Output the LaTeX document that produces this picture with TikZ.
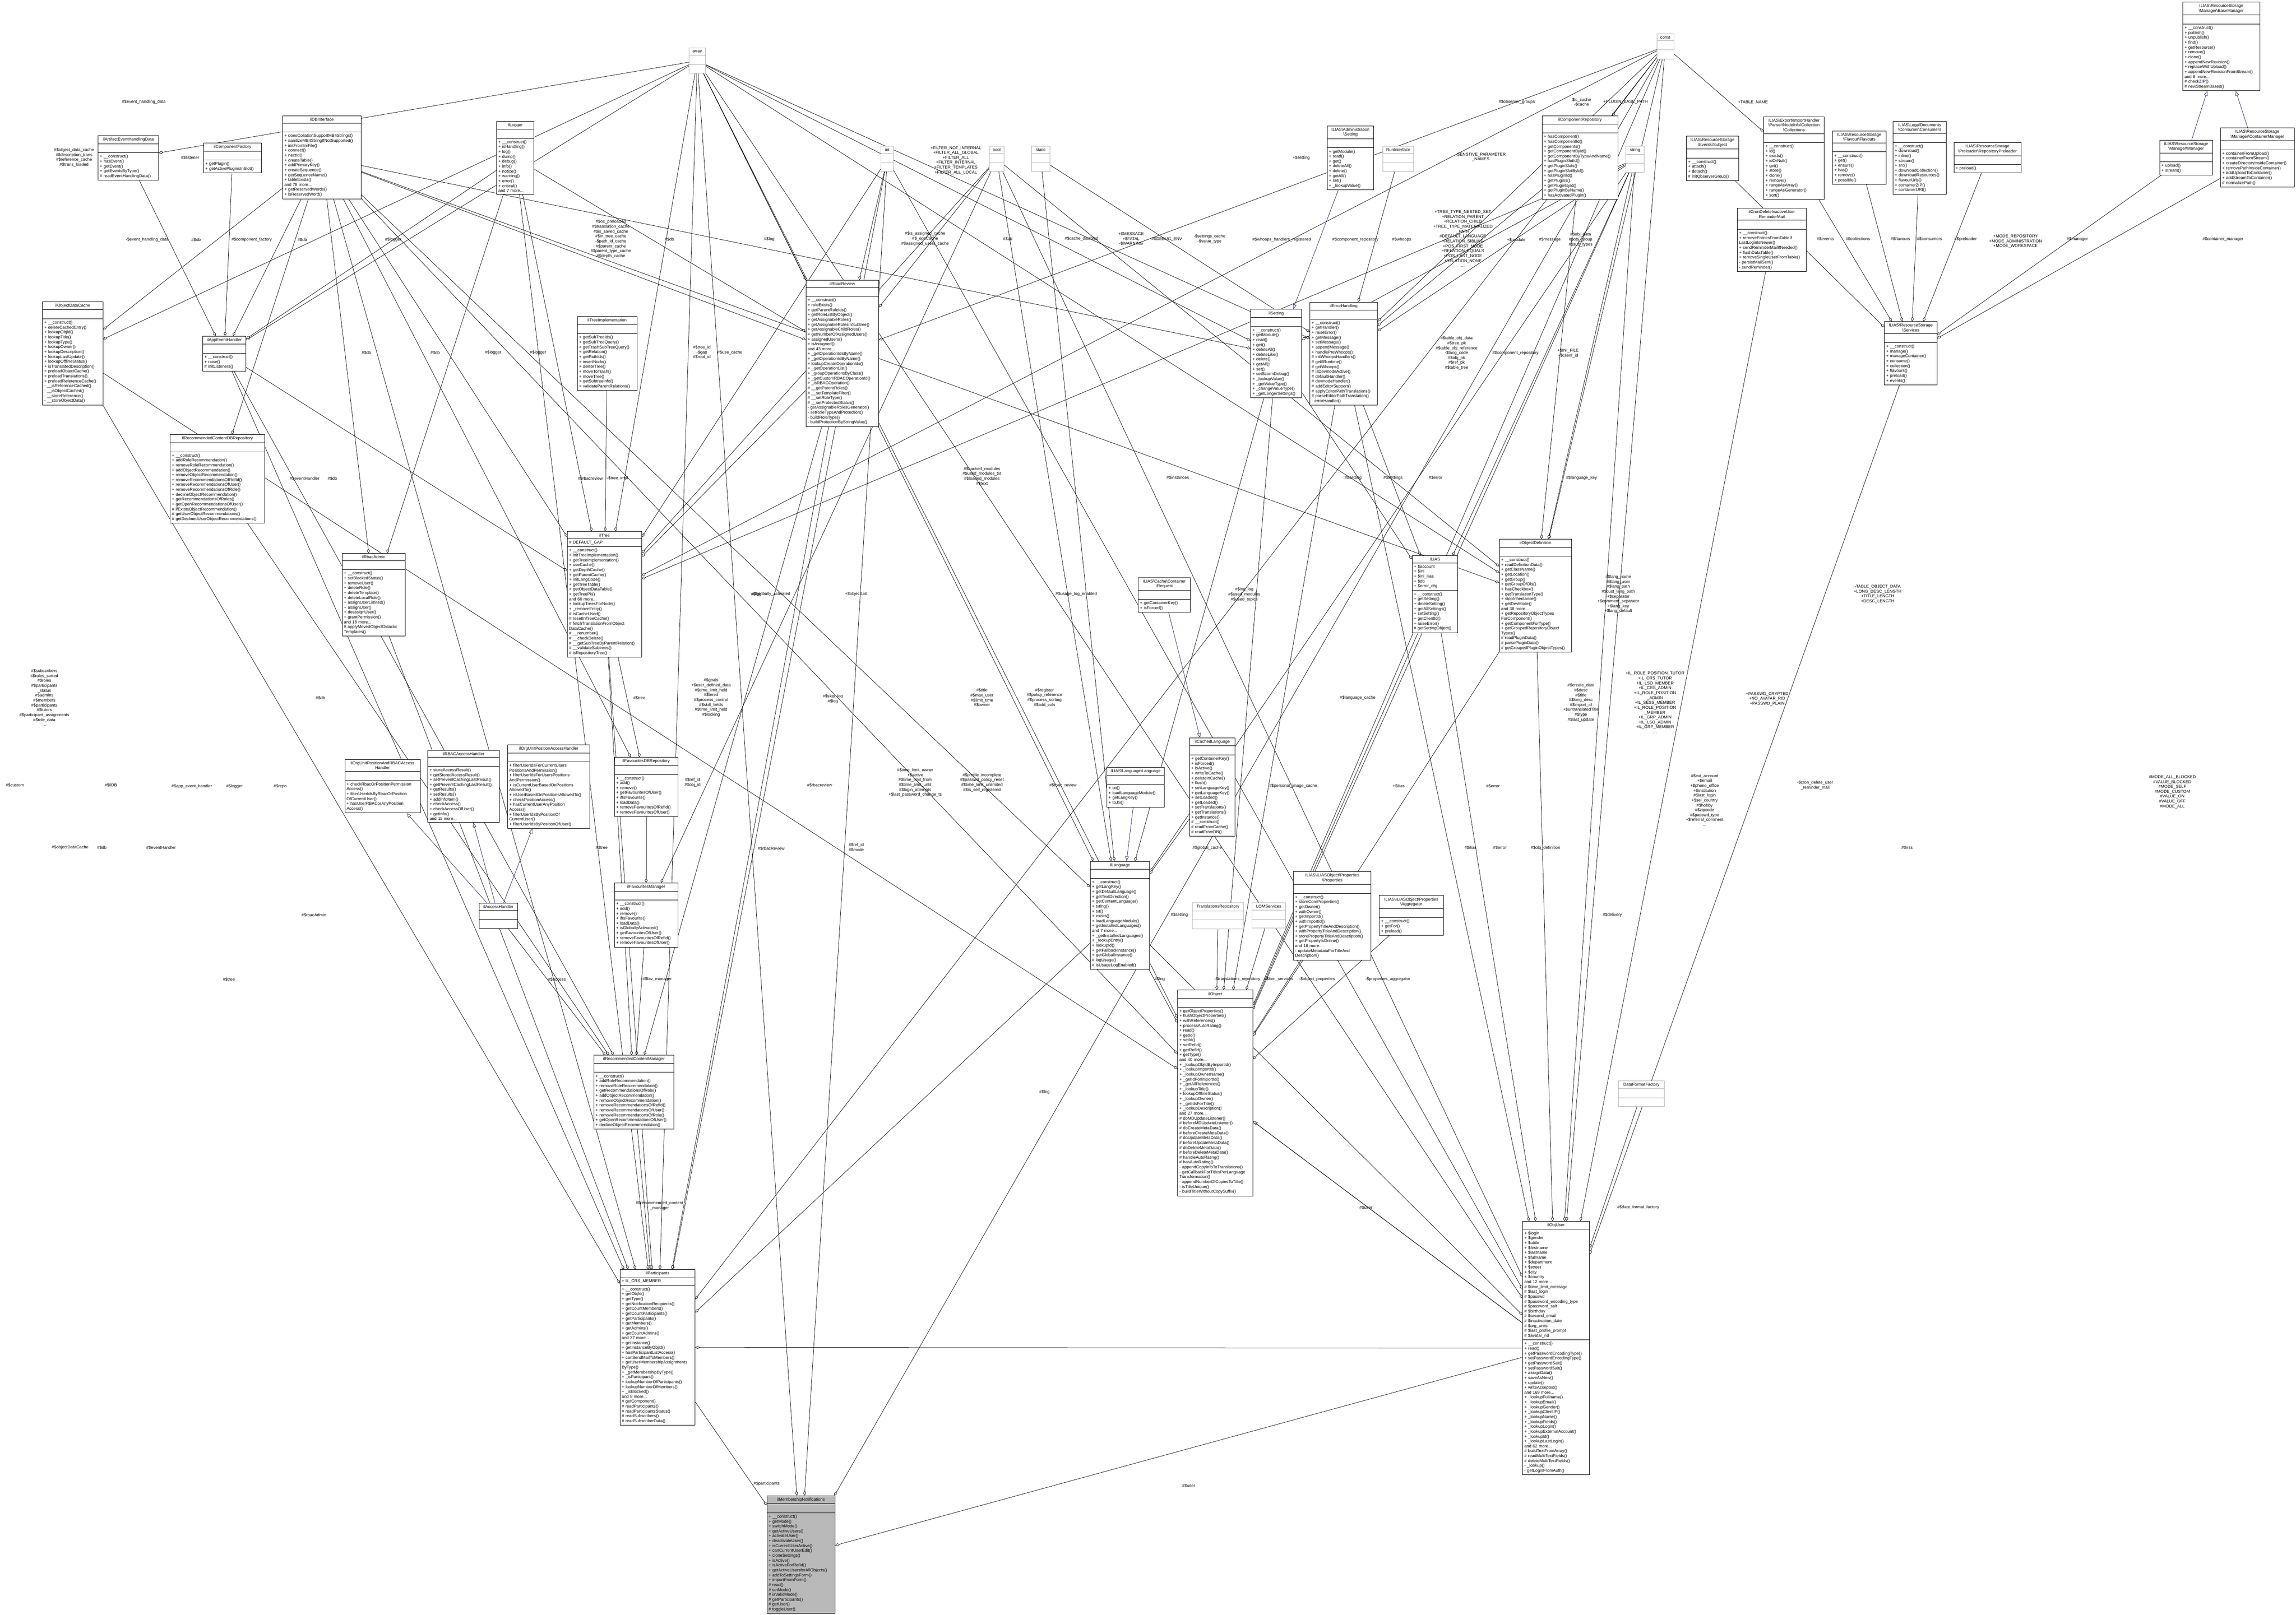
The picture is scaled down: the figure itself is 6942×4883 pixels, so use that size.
\documentclass[tikz,border=0pt]{standalone}
\usepackage{fontspec}
\setmainfont{Liberation Sans}
\usetikzlibrary{shapes.multipart,arrows.meta}
\definecolor{navy}{RGB}{25,25,112}
\pgfdeclarelayer{bg}
\pgfsetlayers{bg,main}
\newdimen\px \px=0.01cm
\newcommand\fs{\fontsize{3.6}{4.2}\selectfont}
\newcommand\E{\rule{0pt}{4.2pt}}
\tikzset{
 cls/.style={rectangle split, rectangle split parts=3, draw, line width=0.35pt, anchor=north west,
   font=\fs, align=left, inner xsep=1.5pt, inner ysep=1.6pt, fill=white},
 gcls/.style={cls, draw=gray!60},
 lbl/.style={font=\fs, align=center, inner sep=0pt},
 agg/.style={line width=0.3pt, -{Diamond[open,fill=white,length=4pt,width=2.4pt]}},
 inh/.style={line width=0.3pt, draw=navy, -{Triangle[open,fill=white,length=4pt,width=3pt]}}
}
\newcommand\cls[8][cls]{\node[#1, text width=\dimexpr#5\px-3pt\relax] (#2) at (#3,#4) {\centering #6\par\nodepart{two}#7\nodepart{three}#8};}
\begin{document}
\begin{tikzpicture}[x=0.01cm,y=-0.01cm]
\begin{pgfonlayer}{bg}
\fill[white] (0,0) rectangle (6942,4883);
\end{pgfonlayer}
\useasboundingbox (0,0) rectangle (6942,4883);
% ---- grey type boxes
\cls[gcls]{arr}{2083}{145}{49}{array}{\E}{\E}
\cls[gcls]{int}{2663}{442}{38}{int}{\E}{\E}
\cls[gcls]{bool}{2991}{442}{44}{bool}{\E}{\E}
\cls[gcls]{stat}{3118}{442}{56}{static}{\E}{\E}
\cls[gcls]{const}{5009}{102}{51}{const}{\E}{\E}
\cls[gcls]{str}{4915}{442}{56}{string}{\E}{\E}
\cls[gcls]{runi}{4180}{442}{94}{RunInterface}{\E}{\E}
\cls[gcls]{trans}{3604}{2730}{156}{TranslationsRepository}{\E}{\E}
\cls[gcls]{lom}{3785}{2730}{101}{LOMServices}{\E}{\E}
\cls[gcls]{dff}{4893}{3268}{138}{DataFormatFactory}{\E}{\E}
% ---- classes
\cls{artif}{296}{410}{183}{ilArtifactEventHandlingData}{\E}{+ \_\_construct()\\+ hasEvent()\\+ getEvent()\\+ getEventsByType()\\\# readEventHandlingData()}
\cls{compf}{615}{432}{175}{ilComponentFactory}{\E}{+ getPlugin()\\+ getActivePluginsInSlot()}
\cls{db}{854}{350}{237}{ilDBInterface}{\E}{+ doesCollationSupportMB4Strings()\\+ sanitizeMB4StringIfNotSupported()\\+ initFromIniFile()\\+ connect()\\+ nextId()\\+ createTable()\\+ addPrimaryKey()\\+ createSequence()\\+ getSequenceName()\\+ tableExists()\\and 78 more...\\+ getReservedWords()\\+ isReservedWord()}
\cls{logger}{1501}{366}{112}{ilLogger}{\E}{+ \_\_construct()\\+ isHandling()\\+ log()\\+ dump()\\+ debug()\\+ info()\\+ notice()\\+ warning()\\+ error()\\+ critical()\\and 7 more...}
\cls{odc}{128}{912}{183}{ilObjectDataCache}{\E}{+ \_\_construct()\\+ deleteCachedEntry()\\+ lookupObjId()\\+ lookupTitle()\\+ lookupType()\\+ lookupOwner()\\+ lookupDescription()\\+ lookupLastUpdate()\\+ lookupOfflineStatus()\\+ isTranslatedDescription()\\+ preloadObjectCache()\\+ preloadTranslations()\\+ preloadReferenceCache()\\- \_\_isReferenceCached()\\- \_\_isObjectCached()\\- \_\_storeReference()\\- \_\_storeObjectData()}
\cls{aeh}{612}{1016}{131}{ilAppEventHandler}{\E}{+ \_\_construct()\\+ raise()\\\# initListeners()}
\cls{rbrev}{2436}{847}{220}{ilRbacReview}{\E}{+ \_\_construct()\\+ roleExists()\\+ getParentRoleIds()\\+ getRoleListByObject()\\+ getAssignableRoles()\\+ getAssignableRolesInSubtree()\\+ getAssignableChildRoles()\\+ getNumberOfAssignedUsers()\\+ assignedUsers()\\+ isAssigned()\\and 43 more...\\+ \_getOperationIdsByName()\\+ \_getOperationIdByName()\\+ lookupCreateOperationIds()\\+ \_getOperationList()\\+ \_groupOperationsByClass()\\+ \_getCustomRBACOperationId()\\+ \_isRBACOperation()\\\# \_\_getParentRoles()\\\# \_\_setTemplateFilter()\\\# \_\_setRoleType()\\\# \_\_setProtectedStatus()\\- getAssignableRolesGenerator()\\- setRoleTypeAndProtection()\\- buildRoleType()\\- buildProtectionByStringValue()}
\cls{treeimpl}{1745}{957}{180}{ilTreeImplementation}{\E}{+ getSubTreeIds()\\+ getSubTreeQuery()\\+ getTrashSubTreeQuery()\\+ getRelation()\\+ getPathIds()\\+ insertNode()\\+ deleteTree()\\+ moveToTrash()\\+ moveTree()\\+ getSubtreeInfo()\\+ validateParentRelations()}
\cls{rcdbr}{514}{1314}{286}{ilRecommendedContentDBRepository}{\E}{+ \_\_construct()\\+ addRoleRecommendation()\\+ removeRoleRecommendation()\\+ addObjectRecommendation()\\+ removeObjectRecommendation()\\+ removeRecommendationsOfRefId()\\+ removeRecommendationsOfUser()\\+ removeRecommendationsOfRole()\\+ declineObjectRecommendation()\\+ getRecommendationsOfRoles()\\+ getOpenRecommendationsOfUser()\\\# ifExistsObjectRecommendation()\\\# getUserObjectRecommendations()\\\# getDeclinedUserObjectRecommendations()}
\cls{tree}{1715}{1607}{224}{ilTree}{\# DEFAULT\_GAP}{+ \_\_construct()\\+ initTreeImplementation()\\+ getTreeImplementation()\\+ useCache()\\+ getDepthCache()\\+ getParentCache()\\+ initLangCode()\\+ getTreeTable()\\+ getObjectDataTable()\\+ getTreePk()\\and 60 more...\\+ lookupTreesForNode()\\+ \_removeEntry()\\\# isCacheUsed()\\\# resetInTreeCache()\\\# fetchTranslationFromObject\\DataCache()\\\# \_\_renumber()\\\# \_\_checkDelete()\\\# \_\_getSubTreeByParentRelation()\\\# \_\_validateSubtrees()\\\# isRepositoryTree()}
\cls{rbadm}{1034}{1673}{190}{ilRbacAdmin}{\E}{+ \_\_construct()\\+ setBlockedStatus()\\+ removeUser()\\+ deleteRole()\\+ deleteTemplate()\\+ deleteLocalRole()\\+ assignUserLimited()\\+ assignUser()\\+ deassignUser()\\+ grantPermission()\\and 18 more...\\\# applyMovedObjectDidactic\\Templates()}
\cls{oupr}{1042}{2296}{228}{ilOrgUnitPositionAndRBACAccess\\Handler}{\E}{+ checkRbacOrPositionPermission\\Access()\\+ filterUserIdsByRbacOrPosition\\OfCurrentUser()\\+ hasUserRBACorAnyPosition\\Access()}
\cls{rbach}{1293}{2268}{216}{ilRBACAccessHandler}{\E}{+ storeAccessResult()\\+ getStoredAccessResult()\\+ setPreventCachingLastResult()\\+ getPreventCachingLastResult()\\+ getResults()\\+ setResults()\\+ addInfoItem()\\+ checkAccess()\\+ checkAccessOfUser()\\+ getInfo()\\and 11 more...}
\cls{oupa}{1534}{2252}{249}{ilOrgUnitPositionAccessHandler}{\E}{+ filterUserIdsForCurrentUsers\\PositionsAndPermission()\\+ filterUserIdsForUsersPositions\\AndPermission()\\+ isCurrentUserBasedOnPositions\\AllowedTo()\\+ isUserBasedOnPositionsAllowedTo()\\+ checkPositionAccess()\\+ hasCurrentUserAnyPosition\\Access()\\+ filterUserIdsByPositionOf\\CurrentUser()\\+ filterUserIdsByPositionOfUser()}
\cls{favdb}{1857}{2290}{192}{ilFavouritesDBRepository}{\E}{+ \_\_construct()\\+ add()\\+ remove()\\+ getFavouritesOfUser()\\+ ifIsFavourite()\\+ loadData()\\+ removeFavouritesOfRefId()\\+ removeFavouritesOfUser()}
\cls{acch}{1448}{2731}{117}{ilAccessHandler}{\E}{\E}
\cls{favm}{1857}{2670}{192}{ilFavouritesManager}{\E}{+ \_\_construct()\\+ add()\\+ remove()\\+ ifIsFavourite()\\+ loadData()\\+ isGloballyActivated()\\+ getFavouritesOfUser()\\+ removeFavouritesOfRefId()\\+ removeFavouritesOfUser()}
\cls{rcm}{1795}{3191}{242}{ilRecommendedContentManager}{\E}{+ \_\_construct()\\+ addRoleRecommendation()\\+ removeRoleRecommendation()\\+ getRecommendationsOfRole()\\+ addObjectRecommendation()\\+ removeObjectRecommendation()\\+ removeRecommendationsOfRefId()\\+ removeRecommendationsOfUser()\\+ removeRecommendationsOfRole()\\+ getOpenRecommendationsOfUser()\\+ declineObjectRecommendation()}
\cls{part}{1874}{3839}{227}{ilParticipants}{+ IL\_CRS\_MEMBER}{+ \_\_construct()\\+ getObjId()\\+ getType()\\+ getNotificationRecipients()\\+ getCountMembers()\\+ getCountParticipants()\\+ getParticipants()\\+ getMembers()\\+ getAdmins()\\+ getCountAdmins()\\and 37 more...\\+ getInstance()\\+ getInstanceByObjId()\\+ hasParticipantListAccess()\\+ canSendMailToMembers()\\+ getUserMembershipAssignments\\ByType()\\+ \_getMembershipByType()\\+ \_isParticipant()\\+ lookupNumberOfParticipants()\\+ lookupNumberOfMembers()\\+ \_isBlocked()\\and 8 more...\\\# getComponent()\\\# readParticipants()\\\# readParticipantsStatus()\\\# readSubscribers()\\\# readSubscriberData()}
\node[cls, fill=gray!55, text width=\dimexpr206\px-3pt\relax] (memn) at (2318,4523) {\centering ilMembershipNotifications\par\nodepart{two}\E\nodepart{three}+ \_\_construct()\\+ getMode()\\+ switchMode()\\+ getActiveUsers()\\+ activateUser()\\+ deactivateUser()\\+ isCurrentUserActive()\\+ canCurrentUserEdit()\\+ cloneSettings()\\+ isActive()\\+ isActiveForRefId()\\+ getActiveUsersforAllObjects()\\+ addToSettingsForm()\\+ importFromForm()\\\# read()\\\# setMode()\\\# isValidMode()\\\# getParticipants()\\\# getUser()\\\# toggleUser()};
\cls{admset}{4012}{380}{141}{ILIAS\textbackslash Administration\\\textbackslash Setting}{\E}{+ getModule()\\+ read()\\+ get()\\+ deleteAll()\\+ delete()\\+ getAll()\\+ set()\\+ \_lookupValue()}
\cls{comprep}{4662}{350}{229}{ilComponentRepository}{\E}{+ hasComponent()\\+ hasComponentId()\\+ getComponents()\\+ getComponentById()\\+ getComponentByTypeAndName()\\+ hasPluginSlotId()\\+ getPluginSlots()\\+ getPluginSlotById()\\+ hasPluginId()\\+ getPlugins()\\+ getPluginById()\\+ getPluginByName()\\+ hasActivatedPlugin()}
\cls{set}{3781}{935}{154}{ilSetting}{\E}{+ \_\_construct()\\+ getModule()\\+ read()\\+ get()\\+ deleteAll()\\+ deleteLike()\\+ delete()\\+ getAll()\\+ set()\\+ setScormDebug()\\+ \_lookupValue()\\+ \_getValueType()\\+ \_changeValueType()\\+ \_getLongerSettings()}
\cls{err}{3960}{913}{204}{ilErrorHandling}{\E}{+ \_\_construct()\\+ getHandler()\\+ raiseError()\\+ getMessage()\\+ setMessage()\\+ appendMessage()\\+ handlePreWhoops()\\\# initWhoopsHandlers()\\\# getIlRuntime()\\\# getWhoops()\\\# isDevmodeActive()\\\# defaultHandler()\\\# devmodeHandler()\\\# addEditorSupport()\\\# applyEditorPathTranslations()\\\# parseEditorPathTranslation()\\- errorHandler()}
\cls{evsub}{5098}{411}{158}{ILIAS\textbackslash ResourceStorage\\\textbackslash Events\textbackslash Subject}{\E}{+ \_\_construct()\\+ attach()\\+ detach()\\\# initObserverGroup()}
\cls{coll}{5332}{352}{183}{ILIAS\textbackslash Export\textbackslash ImportHandler\\\textbackslash Parser\textbackslash NodeInfo\textbackslash Collection\\\textbackslash Collections}{\E}{+ \_\_construct()\\+ id()\\+ exists()\\+ idOrNull()\\+ get()\\+ store()\\+ clone()\\+ remove()\\+ rangeAsArray()\\+ rangeAsGenerator()\\+ sort()}
\cls{flav}{5540}{395}{162}{ILIAS\textbackslash ResourceStorage\\\textbackslash Flavour\textbackslash Flavours}{\E}{+ \_\_construct()\\+ get()\\+ ensure()\\+ has()\\+ remove()\\+ possible()}
\cls{cons}{5723}{366}{161}{ILIAS\textbackslash LegalDocuments\\\textbackslash Consumer\textbackslash Consumers}{\E}{+ \_\_construct()\\+ download()\\+ inline()\\+ stream()\\+ src()\\+ downloadCollection()\\+ downloadResources()\\+ flavourUrls()\\+ containerZIP()\\+ containerURI()}
\cls{prel}{5907}{431}{203}{ILIAS\textbackslash ResourceStorage\\\textbackslash Preloader\textbackslash RepositoryPreloader}{\E}{+ preload()}
\cls{basem}{6599}{6}{233}{ILIAS\textbackslash ResourceStorage\\\textbackslash Manager\textbackslash BaseManager}{\E}{+ \_\_construct()\\+ publish()\\+ unpublish()\\+ find()\\+ getResource()\\+ remove()\\+ clone()\\+ appendNewRevision()\\+ replaceWithUpload()\\+ appendNewRevisionFromStream()\\and 8 more...\\\# checkZIP()\\\# newStreamBased()}
\cls{mgr}{6529}{423}{160}{ILIAS\textbackslash ResourceStorage\\\textbackslash Manager\textbackslash Manager}{\E}{+ upload()\\+ stream()}
\cls{contm}{6713}{386}{223}{ILIAS\textbackslash ResourceStorage\\\textbackslash Manager\textbackslash ContainerManager}{\E}{+ containerFromUpload()\\+ containerFromStream()\\+ createDirectoryInsideContainer()\\+ removePathInsideContainer()\\+ addUploadToContainer()\\+ addStreamToContainer()\\\# normalizePath()}
\cls{cron}{5252}{629}{209}{ilCronDeleteInactiveUser\\ReminderMail}{\E}{+ \_\_construct()\\+ removeEntriesFromTableIf\\LastLoginIsNewer()\\+ sendReminderMailIfNeeded()\\+ flushDataTable()\\+ removeSingleUserFromTable()\\- persistMailSent()\\- sendReminder()}
\cls{serv}{5697}{972}{159}{ILIAS\textbackslash ResourceStorage\\\textbackslash Services}{\E}{+ \_\_construct()\\+ manage()\\+ manageContainer()\\+ consume()\\+ collection()\\+ flavours()\\+ preload()\\+ events()}
\cls{req}{3441}{1746}{157}{ILIAS\textbackslash Cache\textbackslash Container\\\textbackslash Request}{\E}{+ getContainerKey()\\+ isForced()}
\cls{cachl}{3596}{2231}{138}{ilCachedLanguage}{\E}{+ getContainerKey()\\+ isForced()\\+ isActive()\\+ writeToCache()\\+ deleteInCache()\\+ flush()\\+ setLanguageKey()\\+ getLanguageKey()\\+ setLoaded()\\+ getLoaded()\\+ setTranslations()\\+ getTranslations()\\+ getInstance()\\\# \_\_construct()\\\# readFromCache()\\\# readFromDB()}
\cls{ilias}{4269}{1680}{138}{ILIAS}{+ \$account\\+ \$ini\\+ \$ini\_ilias\\+ \$db\\+ \$error\_obj}{+ \_\_construct()\\+ getSetting()\\+ deleteSetting()\\+ getAllSettings()\\+ setSetting()\\+ getClientId()\\+ raiseError()\\\# getSettingObject()}
\cls{objdef}{4533}{1630}{218}{ilObjectDefinition}{\E}{+ \_\_construct()\\+ readDefinitionData()\\+ getClassName()\\+ getLocation()\\+ getGroup()\\+ getGroupOfObj()\\+ hasCheckbox()\\+ getTranslationType()\\+ stopInheritance()\\+ getDevMode()\\and 38 more...\\+ getRepositoryObjectTypes\\ForComponent()\\+ getComponentForType()\\+ getGroupedRepositoryObject\\Types()\\\# readPluginData()\\\# parsePluginData()\\\# getGroupedPluginObjectTypes()}
\cls{langif}{3346}{2320}{174}{ILIAS\textbackslash Language\textbackslash Language}{\E}{+ txt()\\+ loadLanguageModule()\\+ getLangKey()\\+ toJS()}
\cls{lang}{3296}{2604}{179}{ilLanguage}{\E}{+ \_\_construct()\\+ getLangKey()\\+ getDefaultLanguage()\\+ getTextDirection()\\+ getContentLanguage()\\+ txtlng()\\+ txt()\\+ exists()\\+ loadLanguageModule()\\+ getInstalledLanguages()\\and 7 more...\\+ \_getInstalledLanguages()\\+ \_lookupEntry()\\+ lookupId()\\+ getFallbackInstance()\\+ getGlobalInstance()\\\# logUsage()\\\# isUsageLogEnabled()}
\cls{props}{3910}{2635}{235}{ILIAS\textbackslash ILIASObject\textbackslash Properties\\\textbackslash Properties}{\E}{+ \_\_construct()\\+ storeCoreProperties()\\+ getOwner()\\+ withOwner()\\+ getImportId()\\+ withImportId()\\+ getPropertyTitleAndDescription()\\+ withPropertyTitleAndDescription()\\+ storePropertyTitleAndDescription()\\+ getPropertyIsOnline()\\and 16 more...\\- updateMetadataForTitleAnd\\Description()}
\cls{aggr}{4170}{2708}{193}{ILIAS\textbackslash ILIASObject\textbackslash Properties\\\textbackslash Aggregator}{\E}{+ \_\_construct()\\+ getFor()\\+ preload()}
\cls{obj}{3560}{2994}{227}{ilObject}{\E}{+ getObjectProperties()\\+ flushObjectProperties()\\+ withReferences()\\+ processAutoRating()\\+ read()\\+ getId()\\+ setId()\\+ setRefId()\\+ getRefId()\\+ getType()\\and 40 more...\\+ \_lookupObjIdByImportId()\\+ \_lookupImportId()\\+ \_lookupOwnerName()\\+ \_getIdForImportId()\\+ \_getAllReferences()\\+ \_lookupTitle()\\+ lookupOfflineStatus()\\+ \_lookupOwner()\\+ \_getIdsForTitle()\\+ \_lookupDescription()\\and 27 more...\\\# doMDUpdateListener()\\\# beforeMDUpdateListener()\\\# doCreateMetaData()\\\# beforeCreateMetaData()\\\# doUpdateMetaData()\\\# beforeUpdateMetaData()\\\# doDeleteMetaData()\\\# beforeDeleteMetaData()\\\# handleAutoRating()\\\# hasAutoRating()\\- appendCopyInfoToTranslations()\\- getCallbackForTitlesPerLanguage\\Transformation()\\- appendNumberOfCopiesToTitle()\\- isTitleUnique()\\- buildTitleWithoutCopySuffix()}
\cls{user}{4603}{3693}{202}{ilObjUser}{+ \$login\\+ \$gender\\+ \$utitle\\+ \$firstname\\+ \$lastname\\+ \$fullname\\+ \$department\\+ \$street\\+ \$city\\+ \$country\\and 12 more...\\\# \$time\_limit\_message\\\# \$last\_login\\\# \$passwd\\\# \$password\_encoding\_type\\\# \$password\_salt\\\# \$birthday\\\# \$second\_email\\\# \$inactivation\_date\\\# \$org\_units\\\# \$last\_profile\_prompt\\\# \$avatar\_rid}{+ \_\_construct()\\+ read()\\+ getPasswordEncodingType()\\+ setPasswordEncodingType()\\+ getPasswordSalt()\\+ setPasswordSalt()\\+ assignData()\\+ saveAsNew()\\+ update()\\+ writeAccepted()\\and 169 more...\\+ \_lookupFullname()\\+ \_lookupEmail()\\+ \_lookupGender()\\+ \_lookupClientIP()\\+ \_lookupName()\\+ \_lookupFields()\\+ \_lookupLogin()\\+ \_lookupExternalAccount()\\+ \_lookupId()\\+ \_lookupLastLogin()\\and 62 more...\\\# buildTextFromArray()\\\# readMultiTextFields()\\\# deleteMultiTextFields()\\- \_lookup()\\- getLoginFromAuth()}
\begin{pgfonlayer}{bg}
% ---- inheritance
\draw[inh] (admset) -- (set);
\draw[inh] (req) -- (cachl);
\draw[inh] (langif) -- (lang);
\draw[inh] (user) -- (obj);
\draw[inh] (acch) -- (oupr);
\draw[inh] (acch) -- (rbach);
\draw[inh] (acch) -- (oupa);
\draw[inh] (mgr) -- (basem);
\draw[inh] (contm) -- (basem);
% ---- aggregation
\foreach \s/\t in {arr/odc,arr/artif,arr/aeh,arr/tree,arr/rbrev,arr/part,arr/memn,arr/lang,arr/objdef,arr/user,arr/obj,arr/err,arr/set,
 const/comprep,const/coll,const/rbrev,const/err,const/tree,const/user,const/part,const/memn,const/obj,const/objdef,
 str/ilias,str/err,str/set,str/tree,str/lang,str/user,str/obj,str/objdef,
 int/tree,int/user,int/part,int/memn,int/rbrev,bool/tree,bool/lang,bool/favm,bool/user,bool/objdef,bool/rbrev,stat/err,stat/lang,
 runi/err,comprep/err,comprep/objdef,set/ilias,set/lang,set/obj,err/ilias,err/user,err/obj,ilias/obj,ilias/user,objdef/user,objdef/obj,
 cachl/lang,lang/part,lang/obj,lang/user,trans/obj,lom/obj,props/obj,aggr/obj,dff/user,user/memn,user/part,part/memn,rcm/part,
 favm/rcm,acch/rcm,favdb/favm,tree/favdb,tree/rcm,tree/part,rbrev/tree,treeimpl/tree,rbrev/part,rbrev/rcm,rbadm/part,rcdbr/rcm,
 aeh/tree,aeh/part,aeh/rcm,db/odc,db/aeh,db/rcdbr,db/rbadm,db/tree,db/rbrev,db/favdb,db/part,db/set,db/objdef,db/lang,db/obj,
 logger/aeh,logger/rbadm,logger/tree,logger/rbrev,logger/part,compf/aeh,artif/aeh,odc/part,odc/obj,
 evsub/serv,coll/serv,flav/serv,cons/serv,prel/serv,mgr/serv,contm/serv,serv/user,cron/user,user/obj}
 \draw[agg] (\s) -- (\t);
\end{pgfonlayer}
% ---- labels
\node[lbl] (l1) at (224,476) {\#\$object\_data\_cache\\\#\$description\_trans\\\#\$reference\_cache\\\#\$trans\_loaded};
\node[lbl] (l2) at (435,309) {\#\$event\_handling\_data};
\node[lbl] (l3) at (575,477) {\#\$listener};
\node[lbl] (l4) at (445,725) {-\$event\_handling\_data};
\node[lbl] (l5) at (593,725) {\#\$db};
\node[lbl] (l6) at (761,725) {\#\$component\_factory};
\node[lbl] (l7) at (914,725) {\#\$db};
\node[lbl] (l8) at (1189,725) {\#\$logger};
\node[lbl] (l9) at (1108,1067) {\#\$db};
\node[lbl] (l10) at (1316,1067) {\#\$db};
\node[lbl] (l11) at (1491,1067) {\#\$logger};
\node[lbl] (l12) at (1627,1067) {\#\$logger};
\node[lbl] (l13) at (1847,723) {\#\$oc\_preloaded\\\#\$translation\_cache\\\#\$is\_saved\_cache\\\#\$in\_tree\_cache\\-\$path\_id\_cache\\\#\$parent\_cache\\\#\$parent\_type\_cache\\\#\$depth\_cache};
\node[lbl] (l14) at (2024,724) {\#\$db};
\node[lbl] (l15) at (2326,724) {\#\$log};
\node[lbl] (l16) at (2122,1066) {\#\$tree\_id\\-\$gap\\\#\$root\_id};
\node[lbl] (l17) at (2207,1066) {\#\$use\_cache};
\node[lbl] (l18) at (2797,722) {\#\$is\_assigned\_cache\\\#\$\_opsCache\\\#\$assigned\_users\_cache};
\node[lbl] (l19) at (2890,485) {+FILTER\_NOT\_INTERNAL\\+FILTER\_ALL\_GLOBAL\\+FILTER\_ALL\\+FILTER\_INTERNAL\\+FILTER\_TEMPLATES\\+FILTER\_ALL\_LOCAL};
\node[lbl] (l20) at (3047,722) {\#\$db};
\node[lbl] (l21) at (3270,722) {\#\$cache\_disabled};
\node[lbl] (l22) at (3420,722) {+\$MESSAGE\\+\$FATAL\\-\$WARNING};
\node[lbl] (l23) at (921,1447) {\#\$eventHandler};
\node[lbl] (l24) at (1005,1447) {\#\$db};
\node[lbl] (l25) at (1785,1447) {\#\$rbacreview};
\node[lbl] (l26) at (1867,1447) {-\$tree\_impl};
\node[lbl] (l27) at (2286,1798) {\#\$log};
\node[lbl] (l28) at (969,2111) {\#\$db};
\node[lbl] (l29) at (1933,2111) {\#\$tree};
\node[lbl] (l30) at (580,2378) {\#\$app\_event\_handler};
\node[lbl] (l31) at (709,2378) {\#\$logger};
\node[lbl] (l32) at (847,2378) {\#\$repo};
\node[lbl] (l33) at (134,2110) {\#\$subscribers\\\#\$roles\_sorted\\\#\$roles\\\#\$participants\\\_status\\\#\$admins\\\#\$members\\\#\$participants\\\#\$tutors\\\#\$participant\_assignments\\\#\$role\_data\\...};
\node[lbl] (l34) at (2332,1797) {\#\$globally\_activated};
\node[lbl] (l35) at (2589,1797) {+\$objectList};
\node[lbl] (l36) at (3254,1797) {\#\$usage\_log\_enabled};
\node[lbl] (l37) at (2969,1440) {\#\$cached\_modules\\\#\$used\_modules\_txt\\\#\$loaded\_modules\\\#\$text};
\node[lbl] (l38) at (2150,2110) {\#\$goals\\+\$user\_defined\_data\\\#\$time\_limit\_held\\\#\$tered\\\#\$process\_control\\\#\$skill\_fields\\\#\$time\_limit\_held\\\#\$locking};
\node[lbl] (l39) at (2094,2367) {\#\$ref\_id\\\#\$obj\_id};
\node[lbl] (l40) at (2518,2114) {\#\$skip\_log\\\#\$log};
\node[lbl] (l41) at (2767,2367) {\#\$time\_limit\_owner\\+\$active\\\#\$time\_limit\_from\\\#\$time\_limit\_until\\\#\$login\_attempts\\+\$last\_password\_change\_ts};
\node[lbl] (l42) at (2969,2367) {\#\$profile\_incomplete\\\#\$passwd\_policy\_reset\\\#\$time\_limit\_unlimited\\\#\$is\_self\_registered};
\node[lbl] (l43) at (2969,2110) {\#\$title\\\#\$max\_user\\\#\$limit\_time\\\#\$owner};
\node[lbl] (l44) at (3158,2110) {\#\$register\\\#\$policy\_reference\\\#\$process\_sorting\\\#\$add\_cols};
\node[lbl] (l45) at (3214,2375) {\#\$rbac\_review};
\node[lbl] (l46) at (2478,2375) {\#\$rbacreview};
\node[lbl] (l47) at (2589,2563) {\#\$ref\_id\\\#\$mode};
\node[lbl] (l48) at (2332,2566) {\#\$rbacReview};
\node[lbl] (l49) at (949,2767) {\#\$rbacAdmin};
\node[lbl] (l50) at (212,2563) {\#\$objectDataCache};
\node[lbl] (l51) at (308,2563) {\#\$db};
\node[lbl] (l52) at (487,2563) {\#\$eventHandler};
\node[lbl] (l53) at (692,2962) {\#\$tree};
\node[lbl] (l54) at (1819,2563) {\#\$tree};
\node[lbl] (l55) at (3158,3303) {\#\$lng};
\node[lbl] (l56) at (1684,2962) {\#\$access};
\node[lbl] (l57) at (1987,2962) {\#\$fav\_manager};
\node[lbl] (l58) at (1994,3647) {\#\$recommended\_content\\\_manager};
\node[lbl] (l59) at (2318,4487) {\#\$participants};
\node[lbl] (l60) at (45,2375) {\#\$custom};
\node[lbl] (l61) at (335,2375) {\#\$ilDB};
\node[lbl] (l62) at (3934,477) {+\$setting};
\node[lbl] (l63) at (3875,725) {\#\$whoops\_handlers\_registered};
\node[lbl] (l64) at (4098,725) {\#\$component\_repository};
\node[lbl] (l65) at (4238,725) {\#\$whoops};
\node[lbl] (l66) at (4423,722) {+TREE\_TYPE\_NESTED\_SET\\+RELATION\_PARENT\\+RELATION\_CHILD\\+TREE\_TYPE\_MATERIALIZED\\\_PATH\\\#DEFAULT\_LANGUAGE\\+RELATION\_SIBLING\\+POS\_FIRST\_NODE\\+RELATION\_EQUALS\\+POS\_LAST\_NODE\\+RELATION\_NONE\\...};
\node[lbl] (l67) at (4584,725) {+\$module};
\node[lbl] (l68) at (4686,725) {\#\$message};
\node[lbl] (l69) at (4779,725) {\#\$obj\_data\\\#\$obj\_group\\\#\$sub\_types};
\node[lbl] (l70) at (4477,475) {-SENSTIVE\_PARAMETER\\\_NAMES};
\node[lbl] (l71) at (4404,1068) {\#\$table\_obj\_data\\\#\$tree\_pk\\\#\$table\_obj\_reference\\-\$lang\_code\\\#\$obj\_pk\\\#\$ref\_pk\\\#\$table\_tree};
\node[lbl] (l72) at (4582,1068) {\#\$component\_repository};
\node[lbl] (l73) at (4741,1068) {+\$INI\_FILE\\+\$client\_id};
\node[lbl] (l74) at (3528,723) {\#\$DEBUG\_ENV};
\node[lbl] (l75) at (3657,723) {-\$settings\_cache\\-\$value\_type};
\node[lbl] (l76) at (4782,309) {\$lc\_cache\\-\$cache};
\node[lbl] (l77) at (4586,309) {\#\$observer\_groups};
\node[lbl] (l78) at (4915,309) {+PLUGIN\_BASE\_PATH};
\node[lbl] (l79) at (5300,310) {+TABLE\_NAME};
\node[lbl] (l80) at (5519,723) {\#\$events};
\node[lbl] (l81) at (5617,723) {\#\$collections};
\node[lbl] (l82) at (5746,723) {\#\$flavours};
\node[lbl] (l83) at (5834,723) {\#\$consumers};
\node[lbl] (l84) at (5943,723) {\#\$preloader};
\node[lbl] (l85) at (6094,730) {+MODE\_REPOSITORY\\+MODE\_ADMINISTRATION\\+MODE\_WORKSPACE};
\node[lbl] (l86) at (6281,723) {\#\$manager};
\node[lbl] (l87) at (6721,723) {\#\$container\_manager};
\node[lbl] (l88) at (3561,1445) {\#\$instances};
\node[lbl] (l89) at (4091,1445) {\#\$setting};
\node[lbl] (l90) at (4212,1445) {\#\$settings};
\node[lbl] (l91) at (4341,1445) {\#\$error};
\node[lbl] (l92) at (4782,1445) {\#\$language\_key};
\node[lbl] (l93) at (4893,1797) {\#\$lang\_name\\\#\$lang\_user\\\#\$lang\_path\\\#\$cust\_lang\_path\\+\$separator\\+\$comment\_separator\\+\$lang\_key\\+\$lang\_default};
\node[lbl] (l94) at (3762,1798) {\#\$lng\_log\\\#\$used\_modules\\\#\$used\_topics};
\node[lbl] (l95) at (5004,2125) {+IL\_ROLE\_POSITION\_TUTOR\\+IL\_CRS\_TUTOR\\+IL\_LSO\_MEMBER\\+IL\_CRS\_ADMIN\\+IL\_ROLE\_POSITION\\\_ADMIN\\+IL\_SESS\_MEMBER\\+IL\_ROLE\_POSITION\\\_MEMBER\\+IL\_GRP\_ADMIN\\+IL\_LSO\_ADMIN\\+IL\_GRP\_MEMBER\\...};
\node[lbl] (l96) at (4780,2125) {\#\$create\_date\\\#\$desc\\\#\$title\\\#\$long\_desc\\\#\$import\_id\\+\$untranslatedTitle\\\#\$type\\\#\$last\_update};
\node[lbl] (l97) at (5343,2114) {+PASSWD\_CRYPTED\\+NO\_AVATAR\_RID\\+PASSWD\_PLAIN};
\node[lbl] (l98) at (5677,1797) {-TABLE\_OBJECT\_DATA\\+LONG\_DESC\_LENGTH\\+TITLE\_LENGTH\\+DESC\_LENGTH};
\node[lbl] (l99) at (4105,2110) {\#\$language\_cache};
\node[lbl] (l100) at (5154,2420) {\#\$ext\_account\\+\$email\\+\$phone\_office\\+\$institution\\\#\$last\_login\\+\$sel\_country\\\#\$hobby\\\#\$zipcode\\\#\$passwd\_type\\+\$referral\_comment\\...};
\node[lbl] (l101) at (5488,2375) {-\$cron\_delete\_user\\\_reminder\_mail};
\node[lbl] (l102) at (6568,2395) {\#MODE\_ALL\_BLOCKED\\\#VALUE\_BLOCKED\\\#MODE\_SELF\\\#MODE\_CUSTOM\\\#VALUE\_ON\\\#VALUE\_OFF\\\#MODE\_ALL};
\node[lbl] (l103) at (3650,2564) {\#\$global\_cache};
\node[lbl] (l104) at (3910,2377) {\#\$personal\_image\_cache};
\node[lbl] (l105) at (4229,2377) {+\$ilias};
\node[lbl] (l106) at (4514,2377) {\#\$error};
\node[lbl] (l107) at (4446,2564) {\#\$ilias};
\node[lbl] (l108) at (4535,2564) {\#\$error};
\node[lbl] (l109) at (4673,2564) {\#\$obj\_definition};
\node[lbl] (l110) at (3566,2767) {\#\$setting};
\node[lbl] (l111) at (3506,2962) {\#\$lng};
\node[lbl] (l112) at (5766,2563) {\#\$irss};
\node[lbl] (l113) at (4875,2767) {\#\$delivery};
\node[lbl] (l114) at (4953,3651) {\#\$date\_format\_factory};
\node[lbl] (l115) at (4130,3652) {\#\$user};
\node[lbl] (l116) at (3594,4493) {\#\$user};
\node[lbl] (l117) at (3741,2962) {-\$translations\_repository};
\node[lbl] (l118) at (3866,2962) {\#\$lom\_services};
\node[lbl] (l119) at (3982,2962) {-\$object\_properties};
\node[lbl] (l120) at (4196,2962) {-\$properties\_aggregator};
\end{tikzpicture}
\end{document}
